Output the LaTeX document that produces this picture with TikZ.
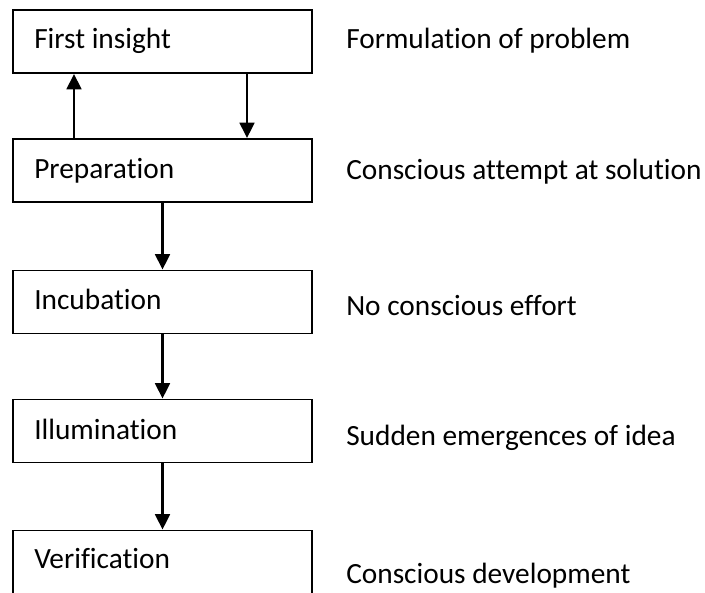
\documentclass[tikz,border=0pt]{standalone}
\usepackage{fontspec}
\setmainfont{Carlito}[RawFeature={-liga;-clig}]
\usetikzlibrary{arrows.meta}
\begin{document}
\begin{tikzpicture}[x=0.75pt,y=-0.75pt,
  stagebox/.style={draw=black,line width=1.4pt,rectangle,inner sep=0pt,
    minimum width=224.25pt,minimum height=47.25pt},
  stagelabel/.style={anchor=base west,inner sep=0pt,font=\fontsize{22}{26}\selectfont},
  notelabel/.style={anchor=base west,inner sep=0pt,font=\fontsize{22}{26}\selectfont},
  flow/.style={draw=black,line width=1.7pt,-{Triangle[length=11.5pt,width=11pt]}}]
\useasboundingbox (0,0) rectangle (705,592);

% stage boxes
\node[stagebox] (b1) at (162.5,41.5) {};
\node[stagebox] (b2) at (162.5,170.5) {};
\node[stagebox] (b3) at (162.5,302) {};
\node[stagebox] (b4) at (162.5,431) {};
\node[stagebox] (b5) at (162.5,562) {};

% stage names
\node[stagelabel] (t1) at (34,49) {First insight};
\node[stagelabel] (t2) at (34,178) {Preparation};
\node[stagelabel] (t3) at (34,309) {Incubation};
\node[stagelabel] (t4) at (34,439) {Illumination};
\node[stagelabel] (t5) at (34,568) {Verification};

% descriptions
\node[notelabel] (n1) at (346,49) {Formulation of problem};
\node[notelabel] (n2) at (346,179) {Conscious attempt at solution};
\node[notelabel] (n3) at (346,315) {No conscious effort};
\node[notelabel] (n4) at (346,445) {Sudden emergences of idea};
\node[notelabel] (n5) at (346,583) {Conscious development};

% arrows
\coordinate (up) at (74,0);
\coordinate (dn) at (247,0);
\draw[flow] (b2.north -| up) -- (b1.south -| up);
\draw[flow] (b1.south -| dn) -- (b2.north -| dn);
\draw[flow] (b2) -- (b3);
\draw[flow] (b3) -- (b4);
\draw[flow] (b4) -- (b5);
\end{tikzpicture}
\end{document}
